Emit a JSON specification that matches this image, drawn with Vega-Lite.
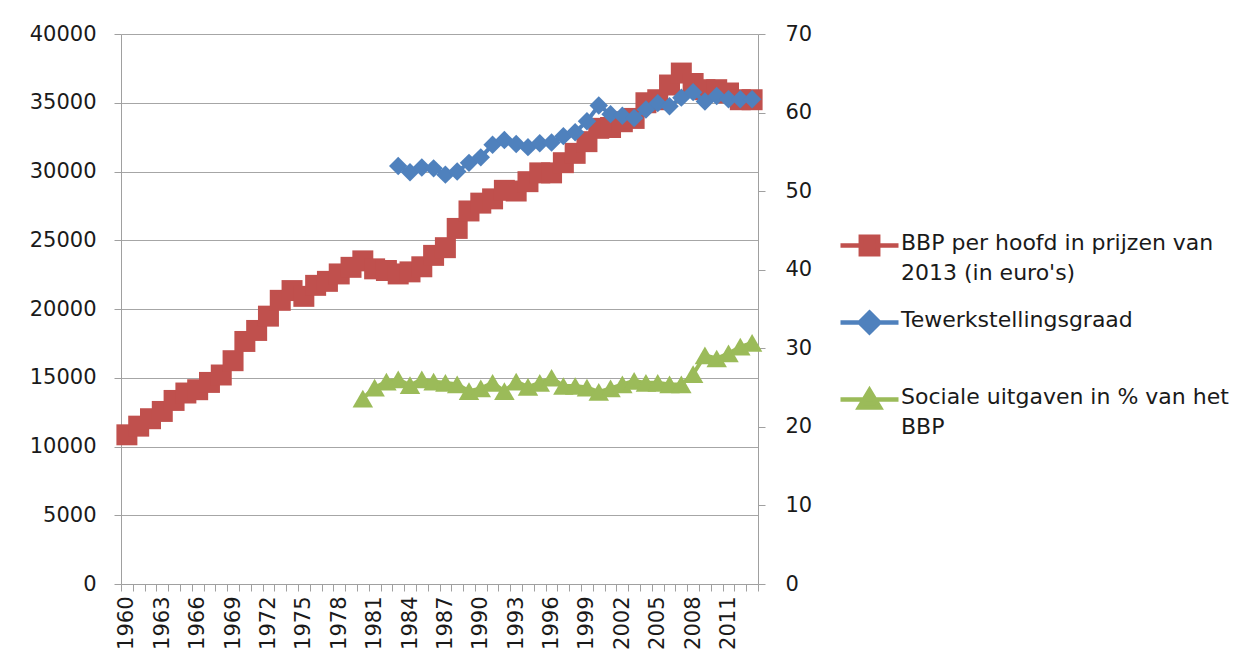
{
  "$schema": "https://vega.github.io/schema/vega-lite/v6.json",
  "width": 637,
  "height": 550,
  "autosize": "none",
  "padding": {"left": 121, "top": 34, "right": 492, "bottom": 80},
  "background": "white",
  "config": {
    "view": {"stroke": null},
    "font": "DejaVu Sans",
    "axis": {"labelColor": "#1a1a1a", "labelFontSize": 21, "domainColor": "#a0a0a0", "tickColor": "#a0a0a0", "gridColor": "#a6a6a6", "tickSize": 7, "title": null}
  },
  "data": {"values": [
    {"year":1960,"series":"bbp","value":10850},{"year":1961,"series":"bbp","value":11480},{"year":1962,"series":"bbp","value":12020},{"year":1963,"series":"bbp","value":12550},{"year":1964,"series":"bbp","value":13350},{"year":1965,"series":"bbp","value":13890},{"year":1966,"series":"bbp","value":14130},{"year":1967,"series":"bbp","value":14660},{"year":1968,"series":"bbp","value":15200},{"year":1969,"series":"bbp","value":16240},
    {"year":1970,"series":"bbp","value":17640},{"year":1971,"series":"bbp","value":18440},{"year":1972,"series":"bbp","value":19480},{"year":1973,"series":"bbp","value":20630},{"year":1974,"series":"bbp","value":21340},{"year":1975,"series":"bbp","value":20920},{"year":1976,"series":"bbp","value":21720},{"year":1977,"series":"bbp","value":22010},{"year":1978,"series":"bbp","value":22550},{"year":1979,"series":"bbp","value":23030},
    {"year":1980,"series":"bbp","value":23500},{"year":1981,"series":"bbp","value":22920},{"year":1982,"series":"bbp","value":22800},{"year":1983,"series":"bbp","value":22550},{"year":1984,"series":"bbp","value":22700},{"year":1985,"series":"bbp","value":23070},{"year":1986,"series":"bbp","value":23900},{"year":1987,"series":"bbp","value":24460},{"year":1988,"series":"bbp","value":25860},{"year":1989,"series":"bbp","value":27130},
    {"year":1990,"series":"bbp","value":27700},{"year":1991,"series":"bbp","value":28010},{"year":1992,"series":"bbp","value":28630},{"year":1993,"series":"bbp","value":28580},{"year":1994,"series":"bbp","value":29260},{"year":1995,"series":"bbp","value":29900},{"year":1996,"series":"bbp","value":29900},{"year":1997,"series":"bbp","value":30640},{"year":1998,"series":"bbp","value":31320},{"year":1999,"series":"bbp","value":32170},
    {"year":2000,"series":"bbp","value":33140},{"year":2001,"series":"bbp","value":33200},{"year":2002,"series":"bbp","value":33620},{"year":2003,"series":"bbp","value":33860},{"year":2004,"series":"bbp","value":35000},{"year":2005,"series":"bbp","value":35220},{"year":2006,"series":"bbp","value":36290},{"year":2007,"series":"bbp","value":37160},{"year":2008,"series":"bbp","value":36400},{"year":2009,"series":"bbp","value":35950},
    {"year":2010,"series":"bbp","value":35950},{"year":2011,"series":"bbp","value":35710},{"year":2012,"series":"bbp","value":35220},{"year":2013,"series":"bbp","value":35220},
    {"year":1983,"series":"tew","value":53.2},{"year":1984,"series":"tew","value":52.4},{"year":1985,"series":"tew","value":53.0},{"year":1986,"series":"tew","value":52.9},{"year":1987,"series":"tew","value":52.1},{"year":1988,"series":"tew","value":52.5},{"year":1989,"series":"tew","value":53.6},
    {"year":1990,"series":"tew","value":54.3},{"year":1991,"series":"tew","value":55.9},{"year":1992,"series":"tew","value":56.5},{"year":1993,"series":"tew","value":56.0},{"year":1994,"series":"tew","value":55.6},{"year":1995,"series":"tew","value":56.1},{"year":1996,"series":"tew","value":56.2},{"year":1997,"series":"tew","value":57.0},{"year":1998,"series":"tew","value":57.5},{"year":1999,"series":"tew","value":58.9},
    {"year":2000,"series":"tew","value":60.9},{"year":2001,"series":"tew","value":59.8},{"year":2002,"series":"tew","value":59.6},{"year":2003,"series":"tew","value":59.3},{"year":2004,"series":"tew","value":60.4},{"year":2005,"series":"tew","value":61.2},{"year":2006,"series":"tew","value":60.8},{"year":2007,"series":"tew","value":61.9},{"year":2008,"series":"tew","value":62.6},{"year":2009,"series":"tew","value":61.4},
    {"year":2010,"series":"tew","value":62.1},{"year":2011,"series":"tew","value":61.7},{"year":2012,"series":"tew","value":61.7},{"year":2013,"series":"tew","value":61.7},
    {"year":1980,"series":"soc","value":23.6},{"year":1981,"series":"soc","value":25.0},{"year":1982,"series":"soc","value":25.75},{"year":1983,"series":"soc","value":26.05},{"year":1984,"series":"soc","value":25.3},{"year":1985,"series":"soc","value":26.05},{"year":1986,"series":"soc","value":25.75},{"year":1987,"series":"soc","value":25.6},{"year":1988,"series":"soc","value":25.4},{"year":1989,"series":"soc","value":24.55},
    {"year":1990,"series":"soc","value":24.9},{"year":1991,"series":"soc","value":25.6},{"year":1992,"series":"soc","value":24.55},{"year":1993,"series":"soc","value":25.75},{"year":1994,"series":"soc","value":25.1},{"year":1995,"series":"soc","value":25.6},{"year":1996,"series":"soc","value":26.25},{"year":1997,"series":"soc","value":25.2},{"year":1998,"series":"soc","value":25.2},{"year":1999,"series":"soc","value":25.0},
    {"year":2000,"series":"soc","value":24.45},{"year":2001,"series":"soc","value":24.9},{"year":2002,"series":"soc","value":25.4},{"year":2003,"series":"soc","value":25.85},{"year":2004,"series":"soc","value":25.6},{"year":2005,"series":"soc","value":25.6},{"year":2006,"series":"soc","value":25.4},{"year":2007,"series":"soc","value":25.4},{"year":2008,"series":"soc","value":26.7},{"year":2009,"series":"soc","value":29.1},
    {"year":2010,"series":"soc","value":28.7},{"year":2011,"series":"soc","value":29.35},{"year":2012,"series":"soc","value":30.2},{"year":2013,"series":"soc","value":30.7}
  ]},
  "encoding": {
    "x": {"field": "year", "type": "ordinal", "sort": "ascending",
      "scale": {"type": "band", "paddingInner": 0, "paddingOuter": 0},
      "axis": {"tickBand": "extent", "labelAngle": 270, "labelOverlap": false, "labelPadding": 5, "grid": false,
        "labelExpr": "(datum.value - 1960) % 3 == 0 ? datum.label : ''"}},
    "color": {"field": "series", "type": "nominal",
      "scale": {"domain": ["bbp", "tew", "soc"], "range": ["#C0504D", "#4F81BD", "#9BBB59"]},
      "legend": {"orient": "none", "legendX": 717, "legendY": 180, "title": null, "padding": 0,
        "symbolSize": 3364, "symbolStrokeWidth": 4.5, "labelFontSize": 22, "labelLimit": 500, "labelOffset": 0,
        "rowPadding": 7, "labelBaseline": "top", "labelColor": "#1a1a1a",
        "labelExpr": "datum.value == 'bbp' ? ['BBP per hoofd in prijzen van', \"2013 (in euro's)\"] : datum.value == 'tew' ? ['Tewerkstellingsgraad', ''] : ['Sociale uitgaven in % van het', 'BBP']",
        "encode": {
          "symbols": {"update": {
            "shape": {"signal": "datum.value == 'bbp' ? 'M-1,0H1M-0.3,-0.3H0.3V0.3H-0.3Z' : datum.value == 'tew' ? 'M-1,0H1M0,-0.34L0.34,0L0,0.34L-0.34,0Z' : 'M-1,0H1M0,-0.32L0.36,0.28H-0.36Z'"},
            "fill": {"signal": "scale('color', datum.value)"},
            "stroke": {"signal": "scale('color', datum.value)"},
            "strokeWidth": {"value": 4.5},
            "opacity": {"value": 1}
          }},
          "labels": {"update": {"lineHeight": {"value": 30}, "dy": {"value": -13}}}
        }}}
  },
  "layer": [
    {
      "transform": [{"filter": "datum.series == 'bbp'"}],
      "encoding": {
        "y": {"field": "value", "type": "quantitative",
          "scale": {"domain": [0, 40000], "nice": false, "zero": true},
          "axis": {"orient": "left", "values": [0,5000,10000,15000,20000,25000,30000,35000,40000], "grid": true, "labelPadding": 18, "format": "d"}}
      },
      "layer": [
        {"mark": {"type": "line", "strokeWidth": 4}},
        {"mark": {"type": "point", "filled": true, "opacity": 1, "shape": "square", "size": 440}}
      ]
    },
    {
      "transform": [{"filter": "datum.series != 'bbp'"}],
      "encoding": {
        "y": {"field": "value", "type": "quantitative",
          "scale": {"domain": [0, 70], "nice": false, "zero": true},
          "axis": {"orient": "right", "values": [0,10,20,30,40,50,60,70], "grid": false, "labelPadding": 20}}
      },
      "layer": [
        {"mark": {"type": "line", "strokeWidth": 4}},
        {"transform": [{"filter": "datum.series == 'tew'"}],
          "mark": {"type": "point", "filled": true, "opacity": 1, "shape": "diamond", "size": 340}},
        {"transform": [{"filter": "datum.series == 'soc'"}],
          "mark": {"type": "point", "filled": true, "opacity": 1, "shape": "triangle-up", "size": 420}}
      ]
    }
  ],
  "resolve": {"scale": {"y": "independent"}}
}
